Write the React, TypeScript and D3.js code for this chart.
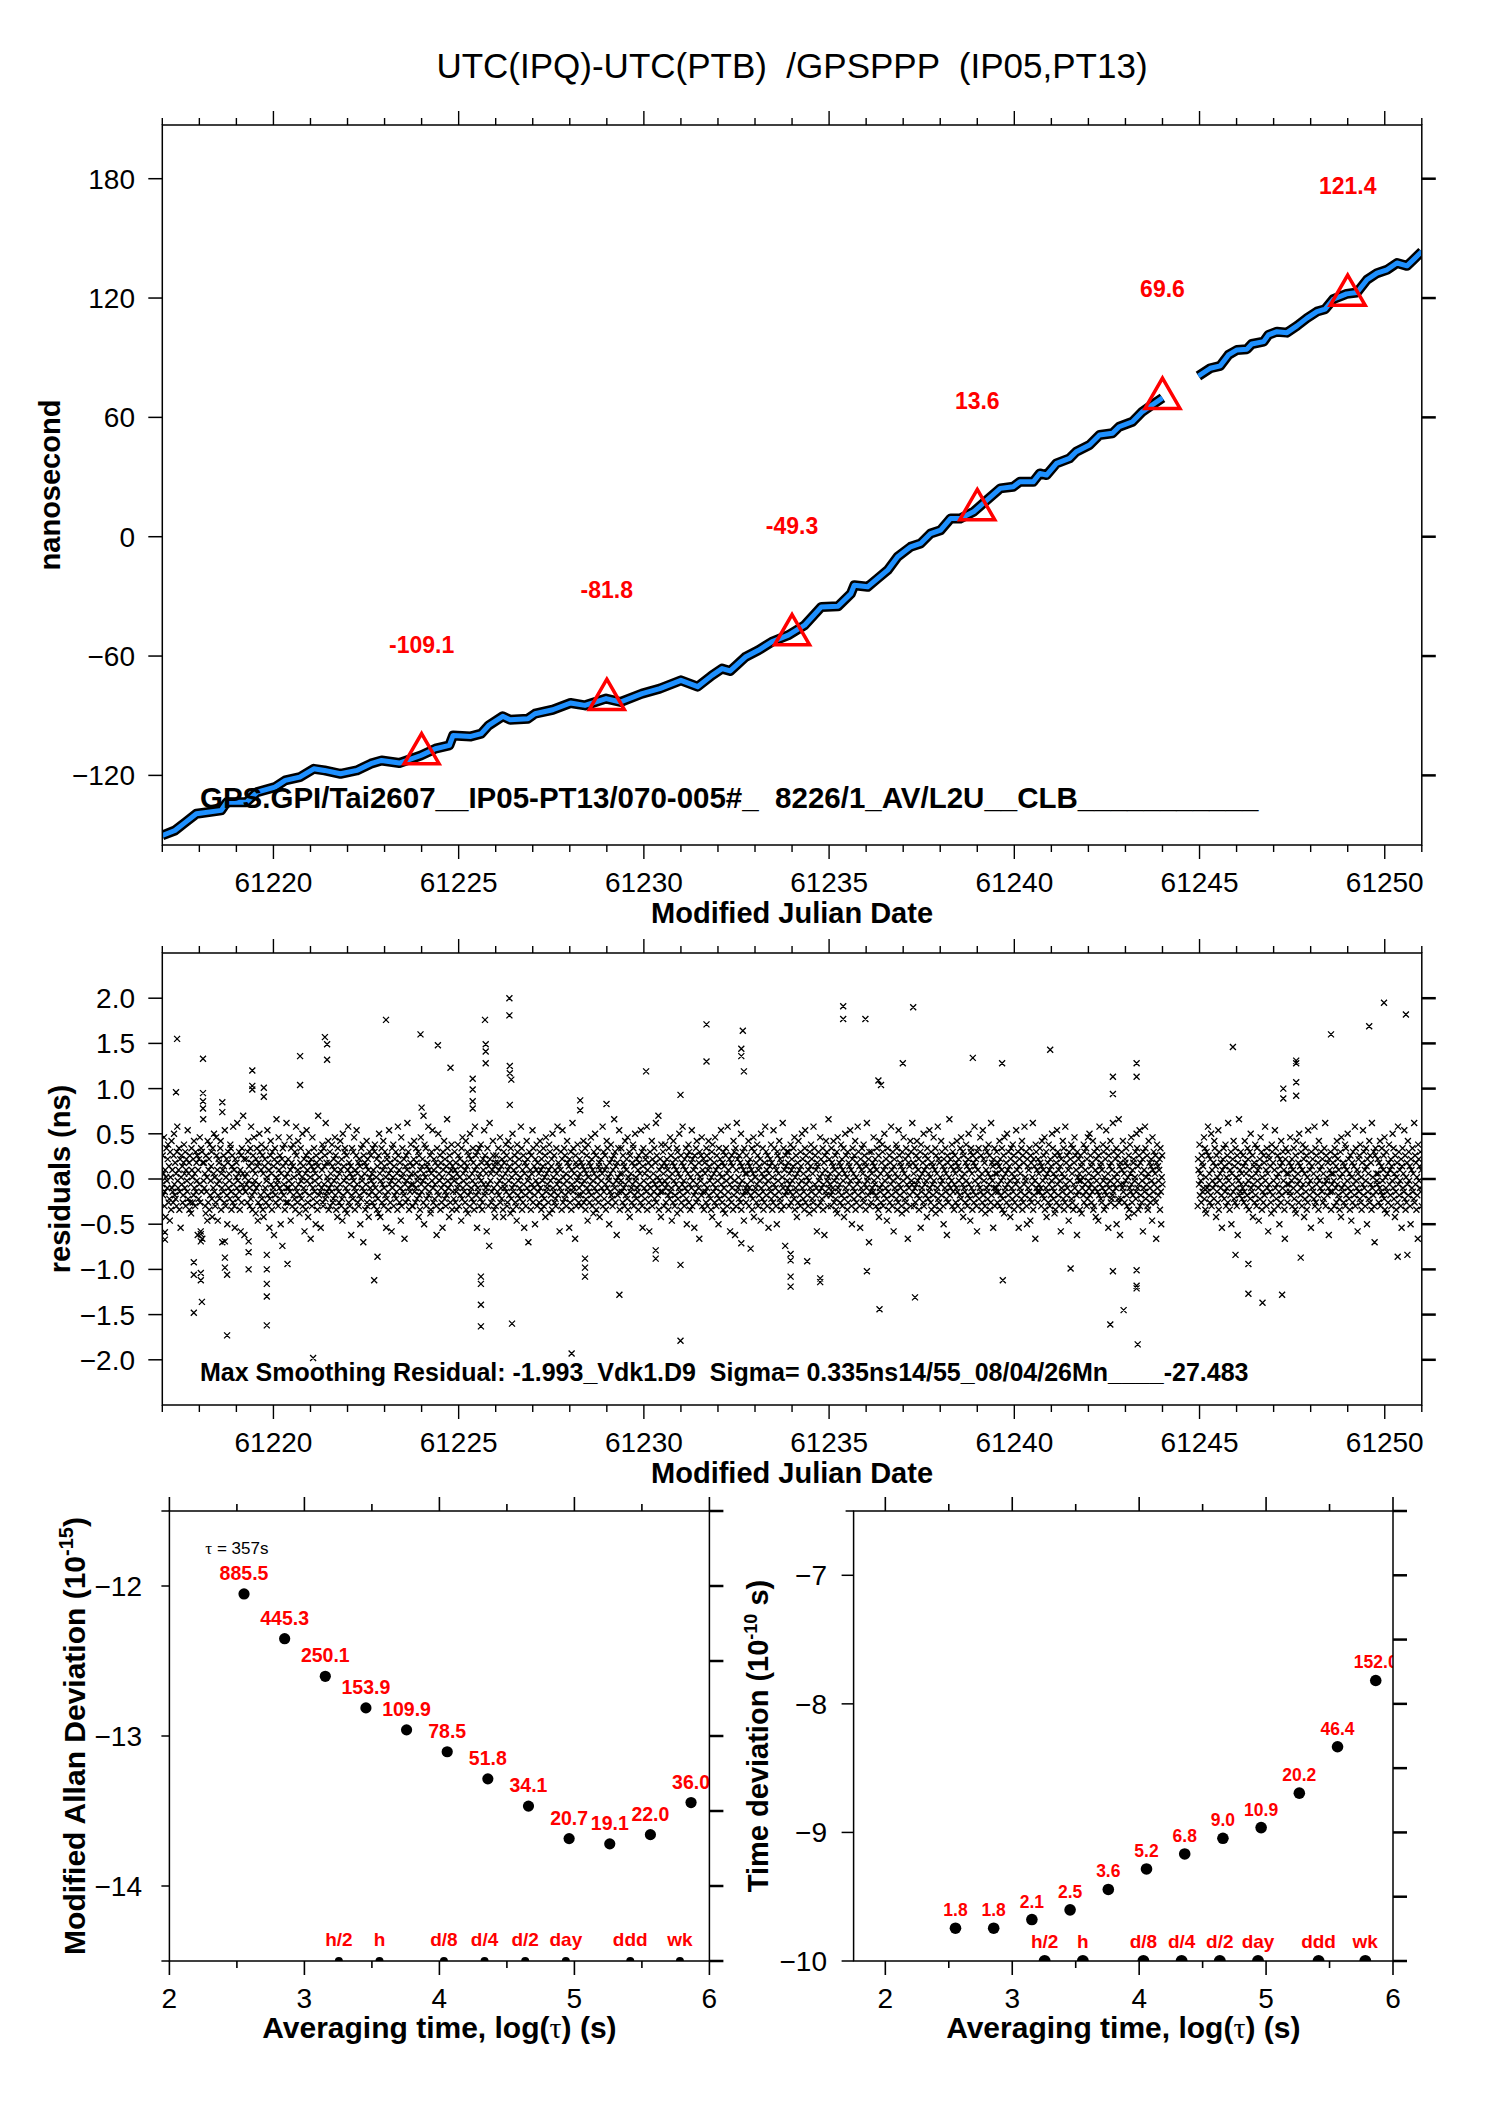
import React from "react";
import * as d3 from "d3";

const W = 1488;
const H = 2105;
const FONT = "'Liberation Sans', Arial, Helvetica, sans-serif";
const RED = "#ff0000";
const BLUE = "#1e90ff";

// ---------------- DATA ----------------
const titleText = "UTC(IPQ)-UTC(PTB)  /GPSPPP  (IP05,PT13)";
const topInfoText = "GPS.GPI/Tai2607__IP05-PT13/070-005#_  8226/1_AV/L2U__CLB___________";
const resInfoText = "Max Smoothing Residual: -1.993_Vdk1.D9  Sigma= 0.335ns14/55_08/04/26Mn____-27.483";

// smoothed UTC(IPQ)-UTC(PTB) curve, segment before the data gap
const smoothSeg1Mjd = [61217.00, 61217.34, 61217.63, 61217.92, 61218.59, 61218.74, 61219.27, 61219.56, 61220.04, 61220.32, 61220.71, 61221.09, 61221.38, 61221.81, 61222.25, 61222.63, 61222.92, 61223.40, 61223.98, 61224.37, 61224.75, 61224.85, 61225.33, 61225.61, 61225.81, 61226.19, 61226.39, 61226.87, 61227.06, 61227.54, 61228.02, 61228.41, 61228.98, 61229.37, 61229.95, 61230.43, 61231.00, 61231.45, 61231.84, 61232.11, 61232.33, 61232.74, 61233.09, 61233.45, 61233.90, 61234.34, 61234.79, 61235.24, 61235.59, 61235.68, 61236.04, 61236.31, 61236.58, 61236.85, 61237.20, 61237.47, 61237.74, 61238.01, 61238.28, 61238.54, 61238.90, 61239.26, 61239.62, 61239.97, 61240.15, 61240.51, 61240.69, 61240.87, 61241.14, 61241.49, 61241.67, 61242.03, 61242.30, 61242.65, 61242.83, 61243.19, 61243.46, 61243.70, 61244.00];
const smoothSeg1Ns = [-150.2, -147.7, -143.5, -139.3, -137.6, -133.5, -133.5, -128.4, -125.9, -122.5, -120.9, -116.7, -117.5, -119.2, -117.5, -114.1, -112.5, -113.8, -110.0, -106.6, -104.9, -99.9, -100.4, -99.0, -94.9, -90.3, -92.0, -91.5, -89.0, -87.0, -83.6, -84.8, -81.4, -83.1, -78.9, -76.4, -72.2, -75.4, -69.7, -66.3, -67.5, -60.5, -57.1, -52.9, -49.5, -44.5, -35.3, -35.0, -28.6, -24.4, -25.2, -21.0, -16.8, -10.1, -5.1, -3.4, 1.6, 3.3, 9.2, 9.2, 12.5, 18.4, 24.3, 25.1, 27.6, 27.6, 31.8, 31.0, 36.9, 39.4, 42.7, 46.1, 51.1, 52.0, 55.3, 57.8, 62.9, 66.0, 69.8];
// segment after the gap
const smoothSeg2Mjd = [61244.97, 61245.29, 61245.56, 61245.78, 61246.01, 61246.28, 61246.41, 61246.73, 61246.86, 61247.09, 61247.36, 61247.63, 61247.90, 61248.17, 61248.39, 61248.61, 61248.97, 61249.25, 61249.52, 61249.79, 61250.06, 61250.33, 61250.60, 61250.77, 61251.00];
const smoothSeg2Ns = [80.8, 84.7, 85.9, 91.4, 93.9, 94.3, 96.9, 98.1, 101.5, 103.1, 102.6, 106.0, 109.9, 113.2, 114.4, 119.4, 122.1, 122.8, 129.2, 132.5, 134.2, 137.6, 136.2, 139.2, 143.4];

// daily values marked by triangles
const markerMjd = [61224, 61229, 61234, 61239, 61244, 61249];
const markerNs = [-109.1, -81.8, -49.3, 13.6, 69.6, 121.4];
const markerLabels = ["-109.1", "-81.8", "-49.3", "13.6", "69.6", "121.4"];

// residuals, one character per sample: signed bin = index in alphabet - 31,
// bin k (k != 0) is centred on (|k| - 0.5) * 0.04 ns with the sign of k
const RES_ALPHABET = "0123456789ABCDEFGHIJKLMNOPQRSTUVWXYZabcdefghijklmnopqrstuvwxyz";
const RES_ZERO = 31;
const RES_STEP = 0.04;
const residualSpan1 = [61217.0, 61244.0];
const residualSpan2 = [61244.95, 61251.0];
const residualRows1 = [
  "TcQXhNRYKWeUSbfOZPJdWMgSYROciTQaPXNdkUSYeMRbHWcTZOQafXSdNYbURjPXaMcOTLeYWObQgSXNdRaUcFYPbThOGeRdEamU",
  "aSXNLcRWJgOYbMfQUZdPKeSXiRWNOhcTYJQbaUPegMXSDYRcZOjTNWbQIadSXUPfeRMZcOkTYNHbQWaSlUPXdRMYGcOeTXnSbFWR",
  "RbTXOdgUZSNePkaQMYcThRUXLbSeZJOaTidNQYfPcMXKRZbSeOUWjQaNYHPcgTXMdRSZFbeQOWmTaUNhYScPIXRbCeZQTfMWaOlS",
  "XObSUhRYJeaTNZfQWPdMSkcROYgTXLQaeUPWiNZSbGRXMcjUYOKdaQTWEbZNhSPYeRUXIcaOMZnTQWbRHdSYfONeTZcPlQaRWUgM",
  "SadNXTRfZOPbUYhQcMWSKeaROXTgYNbPJiQZUdeMSWcLRYkOaTNXZFQeWPdUhSMYRcjTXOaNbQZIPeWUSfDcRXaMTZgONbYKQdWS",
  "cURXOeYTNdfSQWbMZPLciRXKUaeOTYgNSZdQWHPbcRMXjTaOYUGeSWfNZQbTdPRXMkcUYOaSJhNWeRXQbETZOcUYlPdSMWRafTXN",
  "ZNTbgRXOSeaPUWdKcQMYhTRZbUOXIfSWeNPZaTkQYRcLMXdUjSOYbPTaWNFeRZiQXUcMaSOWHdYTgPbRNZQmeUSXKcaOTYfMZRWP",
  "UdYOaRMXSfcTNWbQZJePhSXURaOYgMTZdLQcWNiRbSPXUeaOMYkTcQZHdSRWeNXPfUaMObYTjQcRSXGaeTNZClbUXORYPgcSMZKa",
  "NcXTRaeQYUhOSZPbWMKdaSTXfRcNOYgUQZbLePWSiMRYTcaOXNJfdQUZbSPWkReMYOcTHXaQNZgSbUDWdRPYMcXTjOeSZQIbUYfN",
  "aTRXOdgSYMbQUZeNPWcKhRXSTaOYfLdUQZbMiSWRcOYPNeXTkQaUZGSYdRMbjOWTePcQXNUgaSRZHbOWdMYTlReSXPEcaNZUfQWO",
  "SbXQNadTZRgOUYeMPXcSJfWRaOTZhQbNYULdXSiPcMRWeTOZaKYQbUSXkNdRPYcTMZgSeOWUIaRXfQbPNYTcmSdOZUFaQWeRjMXT",
  "UeRXOcaSZNgTQYbPhMWUdKcRXSOaTfeNZQiUWPbSRYMcaTXOjQdNHZeUSXPbcRkMYTaOGWdSQZgNbUXRePTalOcSWQnMYUbRKfZT",
  "RdXNaUfSOZbTYQMeWPhRcSJXaOgUZNQbTYeLdPXSiRWMcOaTkQZUNbSYePIcRXfOdTMWaSjNbUYQHcZReOgTXPSaEdWUcQhNYRbM",
  "TaXROecSNYgQZUbPMWdKfTRXaOhSYNcQUZIePXbRjTWOaMdSZQLceUXNkRYPbTGWaOcSZMgQdUFeNYlRbSWPcTaOiMZUdQYJeRXS",
  "OcXTRagNSZbQUYeMPXhKdRWSaOTfcNYQZUbJiSXPeRMWOakTdQYNcUHXSZbRfPaMWOjTeQZSNYIdcUXRgPbOaMTWlSeNYQCcZRdU",
  "SadNXTRfOYbUQZePhMWScRKXaOgTYQNdZUiSbPXRMejOcTWQaNYULdSZfRbPXOkMeTcQYSGaZNdURWhObSPXeMTaFcYRgQdUNWmS",
  "bTXQNeaRSZgOUYcPMWdLhSRXaTOZfQbNYUeKPXiScRWMdOaTZQjUYNIbeSXPcRgMWOaTkQdUZNHbSYeRXPfOcTaMZSlUWQbDdNYR",
  "OdXSaRhUZTbQNYePWMcKgSRXOaTfdNYQiUZSbPJXeRMWcOaTkQYNdUGZbSXRfPeMWOjTcQaSZNLdYUhRXPbOeMTWEcaSZQgNdUTl",
  "RaXNeSOZcTgQUYbMPWdHfRSXaOiNYTcQUZKebPXRjSWOdMaTZQhUNYeLcRXSkPbOaMWTgQdUZNIbYSeRXPFcaOTWmQbSZUfNdRYM",
  "TcXOaSgRNZbUYQePhMWTdKcSXROafUZNQbiTYPJdeSXMcRaOkUZQbNGdYTePWShRcMXOjQbUaNLeYSdRPXfTcMWOlQaUZHbSeNXR",
  "SdXOaRTZgNbQUYeMPWcLhRSXaOiTYQdNZUKbeSXPfRcMWOaTjQYUNdHZbSXRePgMcOaTkQWUdNIbZSYRePJcaOTWlMbQZUEfdSYR",
  "ObXTReaSNZgQUYcPhMWSdKRXaOfTYNbQZUiSePXRLcMWaOjTdQYNcUZGbSXRgPeMWOkTaQcSNYJdZUbRfPXOeMTahScNYQFdWRbU",
  "XMcUZLaSWQfOdTYReNbPhUXSiQcTZOaRgMWNdSYKbUeRXJcQkTZPaOYSfUdMWRbNjQeTXHcSZUgOaPYQlRdTWNbSeIXUcPmOZFaT",
  "PdYSgRTXObaUeQNZWKcMSfXRhTOYQabLUWdPRieSZMTcjNaQXOUbGdSYRkePWTcNMXgQaSOZbUJhYRdTPXcOEafSZQUYbMeRIWcT",
];
const residualRows2 = [
  "NbYTfQXUOcaRZShPeMWLdSRkcTXObQiNYUSaPgeTZKcRWOjMdUXSaQHYbTePZRfNWScOlUaMYQdIXTbRgPZOeSWNcFaUmQYRdTXP",
  "ScZORgaTXNQebUMYdPiSWRcKTZaOfQXNeUYSJZbPhTdMWROcaQkUYNeSXGcTbRZOLfdQaUMYjSePWTcNXRIbZOgQaSdUYMEbeRXT",
  "OdXTaRhQZUbNYSePWMcLgRTXaOiUZQdSNYfTbKXPeRcMWOjTaQYUHdZSbRXPkNeOcTWQaMgUYSJdZRbOXPeTlNcUWQaSFbYRdMXT",
  "RaXUNecSZOgTbQYPMWdKhSXRaOTZfNeQYUiSbPXMcRJWaOdTZQkNeUSYGXbRcPfOWMaTjQdSYNUeZIbRXPgOcTaMlSWQdNDceRXU",
  "TbXOaSgNRZeQUYcPhMWSdLRXOafTYQbNZUiSePXKcRMWaOkTdQYUNbHZeSXRjPcMWOaTgQdUZNIbYSeRXPlOcTaMWQEfbUZSdRYN",
];
// large residuals read individually: [MJD, ns]
const residualOutliers: [number, number][] = [
  [61217.40, 1.55], [61217.37, 0.96], [61218.10, 1.33], [61218.10, 0.95], [61218.10, 0.86], [61218.10, 0.78],
  [61217.07, -0.59], [61217.07, -0.67], [61217.85, -0.92], [61217.85, -1.06], [61217.85, -1.48], [61218.04, -1.04], [61218.04, -1.12], [61218.07, -1.36], [61218.04, -0.61], [61218.04, -0.69],
  [61218.62, 0.85], [61218.62, 0.74], [61218.69, -0.69], [61218.69, -0.87], [61218.69, -0.98], [61218.75, -1.06], [61218.75, -1.73],
  [61219.43, 1.20], [61219.43, 1.03], [61219.43, 0.99], [61219.33, -0.69], [61219.33, -0.81], [61219.33, -1.00],
  [61219.74, 1.01], [61219.74, 0.91], [61219.82, -0.84], [61219.82, -1.00], [61219.82, -1.16], [61219.82, -1.30], [61219.82, -1.62],
  [61220.38, -0.94], [61220.72, 1.36], [61220.72, 1.04], [61221.07, -1.98], [61221.39, 1.57], [61221.45, 1.49], [61221.45, 1.32],
  [61223.04, 1.76], [61222.72, -1.12], [61222.81, -0.86], [61223.97, 1.60], [61224.44, 1.48], [61224.00, 0.79], [61224.05, 0.70], [61224.78, 1.23],
  [61225.38, 1.11], [61225.38, 0.99], [61225.38, 0.86], [61225.38, 0.78], [61225.60, -1.08], [61225.60, -1.16], [61225.60, -1.39], [61225.60, -1.63],
  [61225.71, 1.76], [61225.73, 1.49], [61225.73, 1.41], [61225.73, 1.28], [61226.37, 2.00], [61226.37, 1.81], [61226.38, 1.25], [61226.38, 1.17], [61226.42, 1.10], [61226.38, 0.82], [61226.44, -1.60],
  [61228.05, -1.93], [61228.28, 0.87], [61228.28, 0.76], [61228.41, -0.88], [61228.41, -0.98], [61228.41, -1.08], [61228.99, 0.83], [61229.34, -1.28], [61230.06, 1.19], [61230.32, -0.79], [61230.32, -0.88], [61230.99, 0.93], [61230.99, -0.95], [61230.99, -1.79],
  [61231.69, 1.71], [61231.69, 1.30], [61232.67, 1.64], [61232.63, 1.44], [61232.63, 1.36], [61232.70, 1.19], [61232.63, -0.71], [61232.88, -0.77],
  [61233.96, -0.83], [61233.96, -0.90], [61233.96, -1.08], [61233.96, -1.19], [61234.41, -0.91], [61234.76, -1.10], [61234.76, -1.14],
  [61235.38, 1.91], [61235.38, 1.77], [61235.98, 1.77], [61236.02, -1.02], [61236.33, 1.09], [61236.40, 1.04], [61236.36, -1.44], [61236.99, 1.28], [61237.27, 1.90], [61237.32, -1.31],
  [61238.88, 1.34], [61239.67, 1.28], [61239.69, -1.12], [61240.97, 1.43], [61241.52, -0.99],
  [61242.66, 1.13], [61242.66, 0.94], [61242.66, -1.02], [61242.59, -1.61], [61242.95, -1.45], [61243.30, 1.28], [61243.30, 1.13], [61243.30, -1.01], [61243.30, -1.18], [61243.30, -1.21], [61243.33, -1.83],
  [61245.90, 1.46], [61245.97, -0.84], [61246.32, -0.94], [61246.32, -1.27], [61246.70, -1.37], [61247.23, -1.28], [61247.26, 1.00], [61247.26, 0.89], [61247.61, 1.31], [61247.61, 1.28], [61247.61, 1.07], [61247.61, 0.92], [61247.73, -0.87],
  [61248.55, 1.60], [61249.58, 1.69], [61249.98, 1.95], [61250.57, 1.82], [61250.35, -0.86], [61250.61, -0.84],
];

// stability analysis
const tauSeconds = [357, 714, 1428, 2856, 5712, 11424, 22848, 45696, 91392, 182784, 365568, 731136];
const modAdev1e15 = [885.5, 445.3, 250.1, 153.9, 109.9, 78.5, 51.8, 34.1, 20.7, 19.1, 22.0, 36.0];
const modAdevLabels = ["885.5", "445.3", "250.1", "153.9", "109.9", "78.5", "51.8", "34.1", "20.7", "19.1", "22.0", "36.0"];
const tdev1e10 = [1.8, 1.8, 2.1, 2.5, 3.6, 5.2, 6.8, 9.0, 10.9, 20.2, 46.4, 152.0];
const tdevLabels = ["1.8", "1.8", "2.1", "2.5", "3.6", "5.2", "6.8", "9.0", "10.9", "20.2", "46.4", "152.0"];
const refTauSeconds = [1800, 3600, 10800, 21600, 43200, 86400, 259200, 604800];
const refTauLabels = ["h/2", "h", "d/8", "d/4", "d/2", "day", "ddd", "wk"];

// axis ticks
const mjdTickLabels = [61220, 61225, 61230, 61235, 61240, 61245, 61250];
const topYTicks = [180, 120, 60, 0, -60, -120];
const resYTicks = [2.0, 1.5, 1.0, 0.5, 0.0, -0.5, -1.0, -1.5, -2.0];
const logTauTicks = [2, 3, 4, 5, 6];
const adevYTicks = [-12, -13, -14];
const tdevYTicks = [-7, -8, -9, -10];

// ---------------- SCALES ----------------
const P1 = { l: 162.3, r: 1421.8, t: 125, b: 845 };
const P2 = { l: 162.3, r: 1421.8, t: 953, b: 1405 };
const P3 = { l: 169.4, r: 709.4, t: 1511, b: 1961 };
const P4 = { l: 853.6, r: 1393, t: 1511, b: 1961 };

const xMjd = d3.scaleLinear().domain([61217, 61251]).range([P1.l, P1.r]);
const yTop = d3.scaleLinear().domain([-155, 207]).range([P1.b, P1.t]);
const yRes = d3.scaleLinear().domain([-2.5, 2.5]).range([P2.b, P2.t]);
const xAdev = d3.scaleLinear().domain([2, 6]).range([P3.l, P3.r]);
const yAdev = d3.scaleLinear().domain([-14.5, -11.5]).range([P3.b, P3.t]);
const xTdev = d3.scaleLinear().domain([1.75, 6]).range([P4.l, P4.r]);
const yTdev = d3.scaleLinear().domain([-10, -6.5]).range([P4.b, P4.t]);

const fmtInt = d3.format("d");
const fmt1 = d3.format(".1f");

function decodeResiduals(rows: string[], span: number[]) {
  const s = rows.join("");
  const n = s.length;
  return Array.from(s, (ch, i) => {
    const k = RES_ALPHABET.indexOf(ch) - RES_ZERO;
    const v = k === 0 ? 0 : Math.sign(k) * (Math.abs(k) - 0.5) * RES_STEP;
    return [span[0] + ((span[1] - span[0]) * i) / (n - 1), v] as [number, number];
  });
}

const residualPoints: [number, number][] = [
  ...decodeResiduals(residualRows1, residualSpan1),
  ...decodeResiduals(residualRows2, residualSpan2),
  ...residualOutliers,
];

function crossPath(pts: [number, number][], hw: number, hh: number) {
  let d = "";
  for (const [t, v] of pts) {
    const x = xMjd(t);
    const y = yRes(v);
    d += `M${(x - hw).toFixed(1)},${(y - hh).toFixed(1)}L${(x + hw).toFixed(1)},${(y + hh).toFixed(1)}M${(x - hw).toFixed(1)},${(y + hh).toFixed(1)}L${(x + hw).toFixed(1)},${(y - hh).toFixed(1)}`;
  }
  return d;
}

const lineTop = d3
  .line<[number, number]>()
  .x((d) => xMjd(d[0]))
  .y((d) => yTop(d[1]));

const seg1 = smoothSeg1Mjd.map((m, i) => [m, smoothSeg1Ns[i]] as [number, number]);
const seg2 = smoothSeg2Mjd.map((m, i) => [m, smoothSeg2Ns[i]] as [number, number]);

const triangle = d3.symbol().type(d3.symbolTriangle).size(530)();

// ---------------- COMPONENTS ----------------
function MjdAxisTicks({ p }: { p: { l: number; r: number; t: number; b: number } }) {
  const days = d3.range(61217, 61252);
  return (
    <g stroke="#000" strokeWidth={1.4}>
      {days.map((d) => {
        const x = xMjd(d);
        const len = d % 5 === 0 ? 14 : 7;
        return (
          <g key={d}>
            <line x1={x} x2={x} y1={p.t} y2={p.t - len} />
            <line x1={x} x2={x} y1={p.b} y2={p.b + len} />
          </g>
        );
      })}
    </g>
  );
}

function MjdLabels({ baseline, titleBaseline }: { baseline: number; titleBaseline: number }) {
  return (
    <g>
      {mjdTickLabels.map((d) => (
        <text key={d} x={xMjd(d)} y={baseline} textAnchor="middle" fontSize={28}>
          {d}
        </text>
      ))}
      <text x={(P1.l + P1.r) / 2} y={titleBaseline} textAnchor="middle" fontSize={29} fontWeight="bold">
        Modified Julian Date
      </text>
    </g>
  );
}

function LogTauAxis({ p, x }: { p: { l: number; r: number; t: number; b: number }; x: d3.ScaleLinear<number, number> }) {
  const ticks = d3.range(2, 6.01, 0.5);
  return (
    <g>
      <g stroke="#000" strokeWidth={1.6}>
        {ticks.map((v) => {
          const len = Math.abs(v - Math.round(v)) < 1e-6 ? 14 : 7;
          return (
            <g key={v}>
              <line x1={x(v)} x2={x(v)} y1={p.t} y2={p.t - len} />
              <line x1={x(v)} x2={x(v)} y1={p.b} y2={p.b + len} />
            </g>
          );
        })}
      </g>
      {logTauTicks.map((v) => (
        <text key={v} x={x(v)} y={2008} textAnchor="middle" fontSize={28}>
          {v}
        </text>
      ))}
      <text x={(p.l + p.r) / 2} y={2038} textAnchor="middle" fontSize={30} fontWeight="bold" style={{ whiteSpace: "pre" }}>
        Averaging time, log(
        <tspan fontFamily="'Liberation Serif', 'DejaVu Serif', serif" fontWeight="normal">
          τ
        </tspan>
        ) (s)
      </text>
    </g>
  );
}

export default function App() {
  const resPath = crossPath(residualPoints, 3, 3);
  const halfTicksAdev = d3.range(-14.5, -11.49, 0.5);
  const halfTicksTdev = d3.range(-10, -6.49, 0.5);

  return (
    <div style={{ position: "absolute", left: 0, top: 0, width: W, height: H, background: "#fff" }}>
      <svg width={W} height={H} viewBox={`0 0 ${W} ${H}`} style={{ display: "block", fontFamily: FONT }}>
        <rect width={W} height={H} fill="#fff" />
        <defs>
          <clipPath id="clipP1">
            <rect x={P1.l} y={P1.t} width={P1.r - P1.l} height={P1.b - P1.t} />
          </clipPath>
          <clipPath id="clipP2">
            <rect x={P2.l} y={P2.t} width={P2.r - P2.l} height={P2.b - P2.t} />
          </clipPath>
          <clipPath id="clipP3">
            <rect x={P3.l} y={P3.t} width={P3.r - P3.l} height={P3.b - P3.t} />
          </clipPath>
          <clipPath id="clipP4">
            <rect x={P4.l} y={P4.t} width={P4.r - P4.l} height={P4.b - P4.t} />
          </clipPath>
        </defs>

        {/* Title */}
        <text x={792} y={78} textAnchor="middle" fontSize={35} style={{ whiteSpace: "pre" }}>
          {titleText}
        </text>

        {/* ---------- Panel 1 ---------- */}
        <g clipPath="url(#clipP1)">
          {[seg1, seg2].map((s, i) => (
            <g key={i}>
              <path d={lineTop(s) || ""} fill="none" stroke="#000" strokeWidth={10} strokeLinejoin="round" />
              <path d={lineTop(s) || ""} fill="none" stroke={BLUE} strokeWidth={5} strokeLinejoin="round" />
            </g>
          ))}
        </g>
        {markerMjd.map((m, i) => (
          <g key={m}>
            <path
              d={triangle || ""}
              transform={`translate(${xMjd(m)},${yTop(markerNs[i])})`}
              fill="none"
              stroke={RED}
              strokeWidth={3.5}
            />
            <text x={xMjd(m)} y={yTop(markerNs[i]) - 101} textAnchor="middle" fontSize={23} fontWeight="bold" fill={RED}>
              {markerLabels[i]}
            </text>
          </g>
        ))}
        <text x={200} y={808} fontSize={29.5} fontWeight="bold" style={{ whiteSpace: "pre" }}>
          {topInfoText}
        </text>
        <rect x={P1.l} y={P1.t} width={P1.r - P1.l} height={P1.b - P1.t} fill="none" stroke="#000" strokeWidth={1.5} />
        <MjdAxisTicks p={P1} />
        <g stroke="#000">
          {topYTicks.map((v) => (
            <g key={v}>
              <line x1={P1.l - 14} x2={P1.l} y1={yTop(v)} y2={yTop(v)} strokeWidth={1.5} />
              <line x1={P1.r} x2={P1.r + 14} y1={yTop(v)} y2={yTop(v)} strokeWidth={2.5} />
            </g>
          ))}
        </g>
        {topYTicks.map((v) => (
          <text key={v} x={135} y={yTop(v) + 10} textAnchor="end" fontSize={28}>
            {fmtInt(v)}
          </text>
        ))}
        <MjdLabels baseline={892} titleBaseline={923} />
        <text transform={`translate(60,${(P1.t + P1.b) / 2}) rotate(-90)`} textAnchor="middle" fontSize={29} fontWeight="bold">
          nanosecond
        </text>

        {/* ---------- Panel 2 ---------- */}
        <g clipPath="url(#clipP2)">
          <path d={resPath} fill="none" stroke="#000" strokeWidth={1.3} />
        </g>
        <text x={200} y={1381} fontSize={25} fontWeight="bold" style={{ whiteSpace: "pre" }}>
          {resInfoText}
        </text>
        <rect x={P2.l} y={P2.t} width={P2.r - P2.l} height={P2.b - P2.t} fill="none" stroke="#000" strokeWidth={1.5} />
        <MjdAxisTicks p={P2} />
        <g stroke="#000">
          {resYTicks.map((v) => (
            <g key={v}>
              <line x1={P2.l - 14} x2={P2.l} y1={yRes(v)} y2={yRes(v)} strokeWidth={1.5} />
              <line x1={P2.r} x2={P2.r + 14} y1={yRes(v)} y2={yRes(v)} strokeWidth={2.5} />
            </g>
          ))}
        </g>
        {resYTicks.map((v) => (
          <text key={v} x={135} y={yRes(v) + 10} textAnchor="end" fontSize={28}>
            {fmt1(v)}
          </text>
        ))}
        <MjdLabels baseline={1452} titleBaseline={1483} />
        <text transform={`translate(70,${(P2.t + P2.b) / 2}) rotate(-90)`} textAnchor="middle" fontSize={29} fontWeight="bold">
          residuals (ns)
        </text>

        {/* ---------- Panel 3: Modified Allan deviation ---------- */}
        <g clipPath="url(#clipP3)">
          {tauSeconds.map((t, i) => (
            <circle key={t} cx={xAdev(Math.log10(t))} cy={yAdev(Math.log10(modAdev1e15[i] * 1e-15))} r={5.6} fill="#000" />
          ))}
          {tauSeconds.map((t, i) => (
            <text
              key={"l" + t}
              x={xAdev(Math.log10(t))}
              y={yAdev(Math.log10(modAdev1e15[i] * 1e-15)) - 14}
              textAnchor="middle"
              fontSize={19.5}
              fontWeight="bold"
              fill={RED}
            >
              {modAdevLabels[i]}
            </text>
          ))}
          {refTauSeconds.map((t) => (
            <circle key={"d" + t} cx={xAdev(Math.log10(t))} cy={yAdev(-14.5)} r={4} fill="#000" />
          ))}
        </g>
        {refTauSeconds.map((t, i) => (
          <text key={"r" + t} x={xAdev(Math.log10(t))} y={1946} textAnchor="middle" fontSize={19} fontWeight="bold" fill={RED}>
            {refTauLabels[i]}
          </text>
        ))}
        <text x={xAdev(2.5)} y={1554} textAnchor="middle" fontSize={17} style={{ whiteSpace: "pre" }}>
          <tspan fontFamily="'Liberation Serif', 'DejaVu Serif', serif">τ</tspan> = 357s
        </text>
        <rect x={P3.l} y={P3.t} width={P3.r - P3.l} height={P3.b - P3.t} fill="none" stroke="#000" strokeWidth={1.5} />
        <LogTauAxis p={P3} x={xAdev} />
        <g stroke="#000">
          {[-11.5, -12, -13, -14, -14.5].map((v) => (
            <line key={v} x1={P3.l - 8} x2={P3.l} y1={yAdev(v)} y2={yAdev(v)} strokeWidth={1.5} />
          ))}
          {halfTicksAdev.map((v) => (
            <line key={"r" + v} x1={P3.r} x2={P3.r + 14} y1={yAdev(v)} y2={yAdev(v)} strokeWidth={2.5} />
          ))}
        </g>
        {adevYTicks.map((v) => (
          <text key={v} x={142} y={yAdev(v) + 10} textAnchor="end" fontSize={28}>
            {fmtInt(v)}
          </text>
        ))}
        <text transform={`translate(84.5,${(P3.t + P3.b) / 2}) rotate(-90)`} textAnchor="middle" fontSize={30} fontWeight="bold">
          Modified Allan Deviation (10
          <tspan dy={-12} fontSize={20}>
            -15
          </tspan>
          <tspan dy={12}>)</tspan>
        </text>

        {/* ---------- Panel 4: Time deviation ---------- */}
        <g clipPath="url(#clipP4)">
          {tauSeconds.map((t, i) => (
            <circle key={t} cx={xTdev(Math.log10(t))} cy={yTdev(Math.log10(tdev1e10[i] * 1e-10))} r={5.8} fill="#000" />
          ))}
          {tauSeconds.map((t, i) => (
            <text
              key={"l" + t}
              x={xTdev(Math.log10(t))}
              y={yTdev(Math.log10(tdev1e10[i] * 1e-10)) - 12}
              textAnchor="middle"
              fontSize={17.5}
              fontWeight="bold"
              fill={RED}
            >
              {tdevLabels[i]}
            </text>
          ))}
          {refTauSeconds.map((t) => (
            <circle key={"d" + t} cx={xTdev(Math.log10(t))} cy={yTdev(-10)} r={6} fill="#000" />
          ))}
        </g>
        {refTauSeconds.map((t, i) => (
          <text key={"r" + t} x={xTdev(Math.log10(t))} y={1948} textAnchor="middle" fontSize={19} fontWeight="bold" fill={RED}>
            {refTauLabels[i]}
          </text>
        ))}
        <rect x={P4.l} y={P4.t} width={P4.r - P4.l} height={P4.b - P4.t} fill="none" stroke="#000" strokeWidth={1.5} />
        <LogTauAxis p={P4} x={xTdev} />
        <g stroke="#000">
          {[-6.5, -7, -8, -9, -10].map((v) => (
            <line key={v} x1={P4.l - (v === -6.5 ? 8 : 12)} x2={P4.l} y1={yTdev(v)} y2={yTdev(v)} strokeWidth={1.5} />
          ))}
          {halfTicksTdev.map((v) => (
            <line key={"r" + v} x1={P4.r} x2={P4.r + 14} y1={yTdev(v)} y2={yTdev(v)} strokeWidth={2.5} />
          ))}
        </g>
        {tdevYTicks.map((v) => (
          <text key={v} x={827} y={yTdev(v) + 10} textAnchor="end" fontSize={28}>
            {fmtInt(v)}
          </text>
        ))}
        <text transform={`translate(767.7,${(P4.t + P4.b) / 2}) rotate(-90)`} textAnchor="middle" fontSize={29} fontWeight="bold">
          Time deviation (10
          <tspan dy={-11} fontSize={18}>
            -10
          </tspan>
          <tspan dy={11}> s)</tspan>
        </text>
      </svg>
    </div>
  );
}
